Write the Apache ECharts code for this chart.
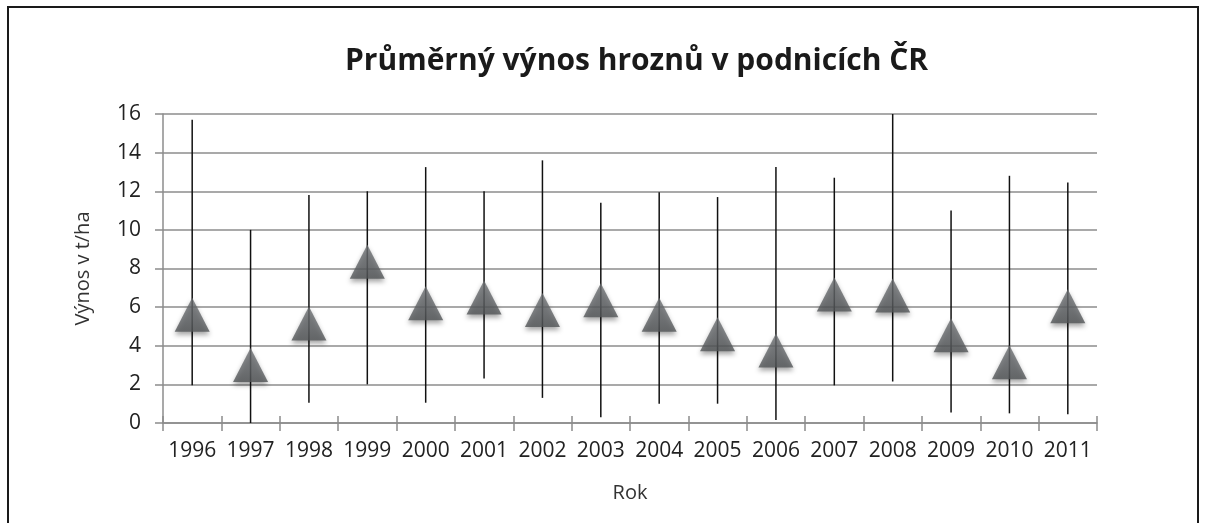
<!DOCTYPE html>
<html>
<head>
<meta charset="utf-8">
<script src="https://cdn.jsdelivr.net/npm/echarts@6/dist/echarts.min.js"></script>
<style>
html,body{margin:0;padding:0;background:#fff;}
#chart{width:1206px;height:523px;}
</style>
</head>
<body>
<div id="chart"></div>
<script>
const years = ['1996','1997','1998','1999','2000','2001','2002','2003','2004','2005','2006','2007','2008','2009','2010','2011'];
const meanVals = [5.6, 3.0, 5.15, 8.35, 6.2, 6.5, 5.85, 6.35, 5.6, 4.6, 3.75, 6.65, 6.6, 4.55, 3.15, 6.05];
const maxVals = [15.7, 10.0, 11.8, 12.0, 13.25, 12.0, 13.6, 11.4, 11.95, 11.7, 13.25, 12.7, 16.0, 11.0, 12.8, 12.45];
const minVals = [1.95, 0.0, 1.05, 2.0, 1.05, 2.3, 1.3, 0.3, 1.0, 1.0, 0.15, 1.95, 2.15, 0.55, 0.5, 0.45];
const yTicks = [0, 2, 4, 6, 8, 10, 12, 14, 16];

const chart = echarts.init(document.getElementById('chart'), null, {renderer: 'canvas'});
const labelFont = 'Open Sans';
const option = {
  backgroundColor: '#ffffff',
  animation: false,
  title: {
    text: 'Průměrný výnos hroznů v podnicích ČR',
    left: 340,
    top: 41,
    textStyle: {fontFamily: 'Open Sans', fontWeight: 'bold', fontSize: 30, color: '#1a1a1a'}
  },
  graphic: [{
    type: 'rect',
    shape: {x: 8, y: 7, width: 1190, height: 540},
    style: {fill: 'none', stroke: '#1a1a1a', lineWidth: 2},
    silent: true
  }],
  grid: {left: 163, right: 109, top: 114, bottom: 100},
  xAxis: [{
    type: 'category',
    data: years,
    position: 'bottom',
    boundaryGap: true,
    name: 'Rok',
    nameLocation: 'middle',
    nameGap: 60,
    nameTextStyle: {fontFamily: labelFont, fontSize: 20, color: '#333'},
    axisLine: {lineStyle: {color: '#8c8c8c', width: 1.5}},
    axisTick: {show: true, length: 8, lineStyle: {color: '#8c8c8c', width: 1.5}},
    axisLabel: {fontFamily: labelFont, fontSize: 21, color: '#222', margin: 18, interval: 0},
    splitLine: {show: false}
  }, {
    type: 'category',
    data: years,
    position: 'bottom',
    boundaryGap: true,
    axisLine: {show: false},
    axisTick: {show: true, inside: true, length: 7, lineStyle: {color: '#8c8c8c', width: 1.5}},
    axisLabel: {show: false},
    splitLine: {show: false}
  }],
  yAxis: {
    type: 'value',
    min: yTicks[0],
    max: yTicks[yTicks.length - 1],
    interval: 2,
    name: 'Výnos v t/ha',
    nameLocation: 'middle',
    nameGap: 70,
    nameTextStyle: {fontFamily: labelFont, fontSize: 20, color: '#333'},
    axisLine: {show: true, lineStyle: {color: '#8c8c8c', width: 1.5}},
    axisTick: {show: true, length: 8, lineStyle: {color: '#8c8c8c', width: 1.5}},
    axisLabel: {fontFamily: labelFont, fontSize: 21, color: '#222', margin: 22},
    splitLine: {show: true, lineStyle: {color: '#8c8c8c', width: 1.5}}
  },
  series: [{
    type: 'custom',
    xAxisIndex: 0,
    data: years.map((y, i) => [i, minVals[i], maxVals[i]]),
    encode: {x: 0, y: [1, 2]},
    renderItem: function (params, api) {
      const lo = api.coord([api.value(0), api.value(1)]);
      const hi = api.coord([api.value(0), api.value(2)]);
      return {
        type: 'line',
        shape: {x1: lo[0], y1: lo[1], x2: hi[0], y2: hi[1]},
        style: {stroke: '#111', lineWidth: 1.5}
      };
    },
    z: 2
  }, {
    type: 'scatter',
    xAxisIndex: 0,
    data: meanVals,
    symbol: 'triangle',
    symbolSize: [35, 34],
    itemStyle: {
      color: new echarts.graphic.LinearGradient(0, 0, 0, 1, [
        {offset: 0, color: '#6e7174'},
        {offset: 0.6, color: '#616467'},
        {offset: 1, color: '#525557'}
      ]),
      shadowColor: 'rgba(0,0,0,0.45)',
      shadowBlur: 5,
      shadowOffsetY: 3
    },
    z: 3
  }]
};
chart.setOption(option);
</script>
</body>
</html>
